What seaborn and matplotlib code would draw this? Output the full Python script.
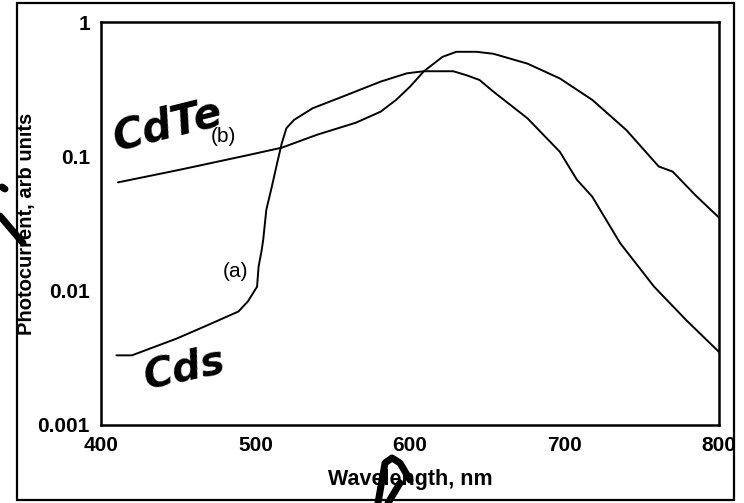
import matplotlib
matplotlib.use("Agg")
import matplotlib.pyplot as plt
import seaborn as sns
import pandas as pd
from matplotlib.patches import Rectangle
from matplotlib.lines import Line2D
from matplotlib.ticker import MultipleLocator, LogLocator, NullFormatter

# curve (b), CdTe
cdte_nm = [411, 450, 495, 517, 540, 565, 581, 591, 600, 609, 621, 630, 643,
           654, 676, 697, 718, 740, 761, 770, 785, 800]
cdte_val = [0.064, 0.079, 0.102, 0.116, 0.145, 0.178, 0.215, 0.263, 0.33, 0.43,
            0.55, 0.60, 0.60, 0.58, 0.49, 0.38, 0.263, 0.157, 0.084, 0.077,
            0.051, 0.035]

# curve (a), CdS
cds_nm = [410, 420, 449, 470, 489, 495, 501, 502, 504, 505, 507, 510.5, 514,
          517, 520, 525, 537, 559, 581, 598, 609, 628, 637, 645, 654, 676, 697,
          708, 718, 736, 758, 779, 800]
cds_val = [0.0033, 0.0033, 0.0044, 0.0056, 0.0070, 0.0083, 0.0107, 0.0151,
           0.020, 0.024, 0.040, 0.059, 0.089, 0.125, 0.162, 0.187, 0.228, 0.286,
           0.36, 0.415, 0.43, 0.43, 0.40, 0.37, 0.303, 0.192, 0.108, 0.067,
           0.050, 0.0226, 0.0107, 0.0060, 0.0035]

x_ticks = [400, 500, 600, 700, 800]
y_ticks = [0.001, 0.01, 0.1, 1]
y_labels = ["0.001", "0.01", "0.1", "1"]

df = pd.concat([
    pd.DataFrame({"nm": cdte_nm, "pc": cdte_val, "film": "CdTe"}),
    pd.DataFrame({"nm": cds_nm, "pc": cds_val, "film": "CdS"}),
])

sns.set_theme(style="white")
plt.rcParams["font.family"] = ["Liberation Sans", "DejaVu Sans"]
plt.rcParams.update({"text.color": "black", "axes.labelcolor": "black",
                     "xtick.color": "black", "ytick.color": "black"})

fig = plt.figure(figsize=(7.44, 5.03), dpi=100)
ax = fig.add_axes([101/744, 1 - 425/503, 618/744, 403/503])

sns.lineplot(data=df, x="nm", y="pc", units="film", estimator=None,
             color="black", lw=1.4, ax=ax, legend=False)

ax.set_yscale("log")
ax.set_xlim(400, 800)
ax.set_ylim(0.001, 1)
ax.set_xticks(x_ticks)
ax.set_xticklabels([str(t) for t in x_ticks])
ax.set_yticks(y_ticks)
ax.set_yticklabels(y_labels)
ax.xaxis.set_minor_locator(MultipleLocator(10))
ax.yaxis.set_minor_locator(LogLocator(base=10, subs=range(2, 10)))
ax.yaxis.set_minor_formatter(NullFormatter())

ax.tick_params(which="both", direction="in", top=False, right=False,
               color="black", width=1.2)
ax.tick_params(which="major", length=7, labelsize=15, pad=8)
ax.tick_params(which="minor", length=4)
for lab in ax.get_xticklabels() + ax.get_yticklabels():
    lab.set_fontweight("bold")

for sp in ax.spines.values():
    sp.set_color("black")
    sp.set_linewidth(1.8)

ax.set_xlabel("Wavelength, nm", fontsize=15.5, fontweight="bold", labelpad=10)
ax.set_ylabel("Photocurrent, arb units", fontsize=14.5, fontweight="bold", labelpad=1)

ax.text(487, 0.0138, "(a)", fontsize=15, ha="center", va="center")
ax.text(479, 0.14, "(b)", fontsize=15, ha="center", va="center")

# handwritten notes on the scan
ax.text(443, 0.17, "CdTe", fontsize=30, fontweight="bold", style="italic",
        rotation=14, ha="center", va="center", family="DejaVu Sans")
ax.text(454, 0.0026, "Cds", fontsize=29, fontweight="bold", style="italic",
        rotation=12, ha="center", va="center", family="DejaVu Sans")

# pen strokes over the scan edges (figure pixels)
W, H = 744, 503
strokes = [
    ([378, 385, 392, 400, 410], [503, 463, 458, 463, 480]),
    ([388, 400], [503, 483]),
    ([0, 23], [216, 243]),
    ([2, 5], [187, 189]),
]
for xs, ys in strokes:
    fig.lines.append(Line2D([x / W for x in xs], [1 - y / H for y in ys],
                            transform=fig.transFigure, color="black",
                            lw=5, solid_capstyle="round"))

frame = Rectangle((17/W, 3/H), 717/W, 497/H, transform=fig.transFigure,
                  fill=False, lw=1.6, edgecolor="black")
fig.patches.append(frame)

fig.savefig("out.png", dpi=100)
